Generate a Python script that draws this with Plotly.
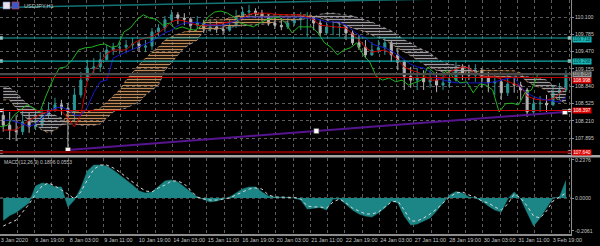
import numpy as np
import plotly.graph_objects as go

# ---------------- data ----------------
BARS_PER_CANDLE = 6          # each plotted candle aggregates 6 H1 bars
CHIKOU_SHIFT = 26            # bars
open_first = 108.31
close = [108.13,108.04,108.01,108.19,108.10,108.13,108.31,108.41,108.50,108.44,
         108.37,108.68,108.95,109.17,109.19,109.32,109.50,109.54,109.55,109.59,
         109.61,109.55,109.57,109.83,109.90,110.05,110.14,110.08,110.06,109.95,
         109.99,109.88,109.92,109.88,109.86,109.94,110.10,110.19,110.21,110.17,
         110.10,109.99,109.95,109.92,109.99,110.05,110.08,110.10,109.99,109.81,
         109.92,109.92,109.92,109.81,109.63,109.55,109.41,109.50,109.54,109.63,
         109.41,109.28,109.02,108.95,108.99,108.92,108.95,108.86,108.90,108.95,
         109.19,109.08,109.04,109.13,108.99,108.90,108.92,108.72,108.88,108.86,
         108.77,108.37,108.52,108.53,108.50,108.72,108.77,109.06]
high = [108.44,108.37,108.31,108.44,108.37,108.41,108.44,108.55,108.63,108.59,
        108.53,108.81,109.10,109.32,109.35,109.46,109.59,109.63,109.64,109.68,
        109.72,109.68,109.68,109.90,109.97,110.12,110.23,110.19,110.17,110.10,
        110.12,110.05,110.05,110.03,110.01,110.05,110.23,110.28,110.32,110.26,
        110.23,110.15,110.10,110.08,110.12,110.19,110.19,110.19,110.12,110.05,
        110.01,110.01,109.99,109.94,109.86,109.77,109.68,109.64,109.68,109.72,
        109.68,109.54,109.32,109.19,109.17,109.13,109.13,109.10,109.10,109.13,
        109.28,109.24,109.23,109.24,109.17,109.10,109.06,108.95,109.04,108.99,
        108.92,108.81,108.63,108.66,108.68,108.84,108.90,109.13]
low = [108.01,107.86,107.84,107.95,107.99,108.04,108.08,108.26,108.37,108.31,
       107.68,108.19,108.63,108.92,109.04,109.10,109.32,109.41,109.43,109.44,
       109.50,109.46,109.46,109.50,109.75,109.83,109.97,109.97,109.95,109.86,
       109.88,109.81,109.83,109.81,109.79,109.83,109.90,110.05,110.08,110.08,
       110.03,109.94,109.88,109.86,109.88,109.94,109.86,109.74,109.86,109.75,
       109.77,109.77,109.74,109.68,109.59,109.50,109.35,109.39,109.44,109.41,
       109.28,109.13,108.77,108.81,108.77,108.77,108.81,108.73,108.77,108.81,
       108.92,108.95,108.95,108.92,108.81,108.73,108.68,108.59,108.66,108.72,
       108.59,108.28,108.31,108.37,108.37,108.48,108.59,108.73]
tenkan = [108.04,108.04,108.04,108.13,108.22,108.28,108.35,108.37,108.41,108.39,
          108.26,108.10,108.31,108.95,109.13,109.26,109.43,109.50,109.50,109.50,
          109.61,109.68,109.72,109.74,109.81,109.90,110.01,110.05,110.03,109.99,
          109.95,109.94,109.95,109.97,109.99,110.01,110.03,110.08,110.15,110.17,
          110.17,110.17,110.15,110.14,110.14,110.14,110.14,110.10,110.05,109.95,
          109.94,109.92,109.92,109.90,109.79,109.68,109.55,109.46,109.48,109.50,
          109.43,109.32,109.19,109.13,109.10,109.04,108.95,108.95,108.99,109.10,
          109.15,109.19,109.17,109.08,109.01,109.01,109.01,108.97,108.92,108.88,
          108.84,108.66,108.61,108.59,108.59,108.61,108.70,108.81]
kijun = [108.22,108.22,108.19,108.15,108.11,108.15,108.26,108.37,108.44,108.46,
         108.41,108.31,108.31,108.46,108.72,108.92,108.95,109.35,109.41,109.46,
         109.50,109.55,109.61,109.66,109.74,109.81,109.86,109.94,109.99,109.99,
         110.01,109.97,109.95,109.95,109.95,109.99,110.03,110.08,110.10,110.10,
         110.10,110.10,110.10,110.10,110.10,110.10,110.10,110.08,110.08,110.05,
         110.01,110.01,110.01,109.95,109.86,109.77,109.72,109.61,109.57,109.54,
         109.48,109.41,109.32,109.24,109.19,109.17,109.10,108.99,108.95,108.92,
         108.90,108.90,108.90,108.90,108.90,108.90,108.92,108.95,108.99,109.01,
         108.82,108.72,108.65,108.61,108.59,108.57,108.55,108.64]
span_a = [108.59,108.59,108.44,108.31,108.22,108.13,108.04,107.99,108.04,108.13,
          108.37,108.37,108.37,108.37,108.41,108.44,108.55,108.66,108.77,108.95,
          109.10,109.23,109.35,109.46,109.55,109.68,109.74,109.79,109.83,109.85,
          109.86,110.01,110.05,110.05,110.05,110.08,110.12,110.14,110.15,110.15,
          110.14,110.14,110.15,110.15,110.15,110.15,110.15,110.14,110.12,110.08,
          110.05,110.01,109.97,109.94,109.90,109.86,109.83,109.77,109.72,109.68,
          109.61,109.54,109.46,109.39,109.32,109.24,109.19,109.13,109.10,109.08,
          109.08,109.10,109.10,109.10,109.13,109.13,109.13,109.13,109.13,109.12,
          109.08,108.92,108.86,108.81,108.77,108.64,108.59,108.53]
span_b = [108.83,108.81,108.73,108.59,108.50,108.41,108.35,108.35,108.31,108.26,
          108.15,108.15,108.13,108.13,108.13,108.15,108.26,108.37,108.41,108.44,
          108.50,108.55,108.68,108.77,108.86,109.13,109.28,109.41,109.54,109.61,
          109.68,109.86,109.86,109.88,109.90,109.90,109.94,109.94,109.95,109.97,
          109.97,109.97,110.01,110.01,110.01,110.05,110.05,110.08,110.10,110.15,
          110.17,110.17,110.15,110.14,110.12,110.08,110.05,110.01,109.95,109.90,
          109.85,109.77,109.68,109.63,109.55,109.50,109.44,109.35,109.28,109.24,
          109.23,109.21,109.17,109.13,109.02,109.01,109.01,109.01,109.02,109.02,
          109.02,109.01,108.99,108.99,108.95,108.86,108.83,108.81]
macd_main = [-0.14,-0.11,-0.09,-0.06,-0.03,0.075,0.094,0.088,0.069,0.069,
             -0.056,-0.013,0.063,0.169,0.206,0.206,0.2,0.175,0.144,0.113,
             0.081,0.044,0.031,0.038,0.075,0.106,0.113,0.1,0.069,0.038,
             0.006,-0.009,-0.025,-0.019,-0.006,0.006,0.031,0.056,0.069,0.069,
             0.038,0.013,0.006,0.006,0.003,0.0,-0.013,-0.069,-0.063,-0.059,
             -0.075,-0.006,-0.006,-0.038,-0.075,-0.1,-0.113,-0.119,-0.094,-0.063,
             -0.019,-0.031,-0.113,-0.169,-0.163,-0.144,-0.125,-0.081,-0.031,0.019,
             0.04,0.031,0.006,0.0,-0.019,-0.05,-0.075,-0.088,-0.006,0.038,
             -0.006,-0.094,-0.175,-0.125,-0.063,0.0,0.006,0.11]
macd_signal = [-0.175,-0.156,-0.138,-0.088,-0.038,0.025,0.075,0.094,0.075,0.05,
               0.025,-0.006,0.038,0.113,0.18,0.206,0.206,0.188,0.163,0.131,
               0.1,0.069,0.044,0.038,0.063,0.081,0.106,0.106,0.088,0.044,
               0.006,-0.006,-0.013,-0.013,-0.006,0.0,0.019,0.038,0.056,0.063,
               0.056,0.019,0.006,0.006,0.006,0.003,-0.006,-0.05,-0.056,-0.056,
               -0.063,-0.025,-0.006,-0.031,-0.063,-0.081,-0.1,-0.1,-0.088,-0.056,
               -0.025,-0.019,-0.075,-0.144,-0.144,-0.125,-0.1,-0.069,-0.031,0.006,
               0.031,0.038,0.019,0.006,-0.019,-0.031,-0.056,-0.075,-0.038,0.025,
               0.0,-0.05,-0.113,-0.125,-0.081,-0.019,0.006,0.031]

time_label_bars = [0, 32, 64, 96, 128, 160, 192, 224, 256, 288, 320, 352, 384, 416, 448, 480, 512]
time_labels = ["3 Jan 2020", "6 Jan 19:00", "8 Jan 03:00", "9 Jan 11:00", "10 Jan 19:00",
               "14 Jan 03:00", "15 Jan 11:00", "16 Jan 19:00", "20 Jan 03:00", "21 Jan 11:00",
               "22 Jan 19:00", "24 Jan 03:00", "27 Jan 11:00", "28 Jan 19:00", "30 Jan 03:00",
               "31 Jan 11:00", "3 Feb 19:00"]
grid_step_bars = 16
price_ticks = [110.100, 109.785, 109.470, 109.155, 108.840, 108.525, 108.210, 107.895]
macd_ticks = [0.2376, 0.0, -0.2061]
macd_tick_text = ["0.2376", "0.0000", "-0.2061"]

hline_prices = [109.718, 109.298, 109.059, 108.998, 108.397, 107.640]
hline_colors = ["#17A9A9", "#17A9A9", "#4A4A4A", "#C00000", "#D00000", "#7A0000"]
hline_widths = [1.2, 1.2, 2.2, 1.2, 1.2, 2.2]
hline_label_bg = ["#19B8B8", "#19B8B8", "#9A9A9A", "#E00000", "#E00000", "#E00000"]
hline_label_fg = ["#003838", "#003838", "#202020", "#FFFFFF", "#FFFFFF", "#FFFFFF"]
hline_label_shift = [-1.5, 0, 0, -3.4, 0, 0]
hline_handles = [True, True, False, False, True, True]

trend_purple_bars = [63, 524]
trend_purple_prices = [107.677, 108.369]
trend_teal_bars = [0, 540]
trend_teal_prices = [110.273, 110.48]

title_text = "USDJPY,H1"
macd_title = "MACD(12,26,9) 0.1896 0.0553"

# ---------------- layout geometry ----------------
W, H = 600, 246
ML, MR, MT, MB = 0, 29, 0, 12
PLOT_H = H - MT - MB
MAIN_BOTTOM_PX = 155
MACD_TOP_PX = 158
X_RANGE = [0, 529.7]
Y_RANGE = [107.586, 110.41]
Y2_RANGE = [-0.225, 0.25]
FONT = "Liberation Sans"
TXT = "#C4C4C4"
GRID = "#5C5C5C"


def py(px):
    return 1 - px / PLOT_H


def pxx(px):
    return px / (W - ML - MR)


n = len(close)
x = np.arange(n) * BARS_PER_CANDLE + BARS_PER_CANDLE / 2
opens = [open_first] + close[:-1]
a = np.array(span_a)
b = np.array(span_b)
lower = np.minimum(a, b)

fig = go.Figure()

# Ichimoku cloud (hatched)
fig.add_trace(go.Scatter(x=x, y=lower, mode="lines", line=dict(width=0), hoverinfo="skip", showlegend=False))
fig.add_trace(go.Scatter(x=x, y=a, mode="lines", line=dict(width=0.8, color="#C8955F", dash="dot"),
                         fill="tonexty", fillcolor="rgba(0,0,0,0)",
                         fillpattern=dict(shape="-", fgcolor="#C08A58", bgcolor="rgba(0,0,0,0)", size=3, solidity=0.45),
                         hoverinfo="skip", showlegend=False))
fig.add_trace(go.Scatter(x=x, y=lower, mode="lines", line=dict(width=0), hoverinfo="skip", showlegend=False))
fig.add_trace(go.Scatter(x=x, y=b, mode="lines", line=dict(width=0.8, color="#A8A0A8", dash="dot"),
                         fill="tonexty", fillcolor="rgba(0,0,0,0)",
                         fillpattern=dict(shape="-", fgcolor="#A09AA2", bgcolor="rgba(0,0,0,0)", size=3, solidity=0.45),
                         hoverinfo="skip", showlegend=False))

# candles
fig.add_trace(go.Candlestick(x=x, open=opens, high=high, low=low, close=close,
                             increasing=dict(line=dict(color="#2A9696", width=1), fillcolor="#2A9696"),
                             decreasing=dict(line=dict(color="#B4B4B4", width=1), fillcolor="#B4B4B4"),
                             whiskerwidth=0, hoverinfo="skip", showlegend=False))

# Ichimoku lines
fig.add_trace(go.Scatter(x=x, y=tenkan, mode="lines", line=dict(color="#D00000", width=1), showlegend=False, hoverinfo="skip"))
fig.add_trace(go.Scatter(x=x, y=kijun, mode="lines", line=dict(color="#1818C8", width=1), showlegend=False, hoverinfo="skip"))
fig.add_trace(go.Scatter(x=x - CHIKOU_SHIFT, y=close, mode="lines", line=dict(color="#1FB51F", width=1), showlegend=False, hoverinfo="skip"))

# trend lines
fig.add_trace(go.Scatter(x=trend_teal_bars, y=trend_teal_prices, mode="lines", line=dict(color="#137272", width=1.6),
                         showlegend=False, hoverinfo="skip"))
fig.add_trace(go.Scatter(x=trend_purple_bars, y=trend_purple_prices, mode="lines", line=dict(color="#56158F", width=2),
                         showlegend=False, hoverinfo="skip"))
pmx = [trend_purple_bars[0], np.mean(trend_purple_bars), trend_purple_bars[1]]
pmy = [trend_purple_prices[0], np.mean(trend_purple_prices), trend_purple_prices[1]]
fig.add_trace(go.Scatter(x=pmx, y=pmy, mode="markers",
                         marker=dict(symbol="square", size=5, color="#FFFFFF", line=dict(color="#505050", width=0.6)),
                         showlegend=False, hoverinfo="skip"))

# MACD
fig.add_trace(go.Scatter(x=x, y=macd_main, mode="lines", line=dict(color="#1C8585", width=0.5),
                         fill="tozeroy", fillcolor="#1C8585", xaxis="x2", yaxis="y2",
                         showlegend=False, hoverinfo="skip"))
fig.add_trace(go.Scatter(x=x, y=macd_signal, mode="lines", line=dict(color="#D8D8D8", width=1, dash="dot"),
                         xaxis="x2", yaxis="y2", showlegend=False, hoverinfo="skip"))

shapes = []
annotations = []
# horizontal price lines + handles + right labels
hx, hy = [], []
for p, c, w, bg, fg, sh, hnd in zip(hline_prices, hline_colors, hline_widths, hline_label_bg, hline_label_fg,
                                    hline_label_shift, hline_handles):
    shapes.append(dict(type="line", xref="paper", yref="y", x0=0, x1=1, y0=p, y1=p, line=dict(color=c, width=w)))
    annotations.append(dict(xref="paper", yref="y", x=1, y=p, xanchor="left", yanchor="middle", xshift=1, yshift=sh,
                            text=f"{p:.3f}", showarrow=False, bgcolor=bg, borderpad=0.2,
                            font=dict(family=FONT, size=4.8, color=fg)))
    if hnd:
        hx += [X_RANGE[0] + 1.2, X_RANGE[1] - 1.5]
        hy += [p, p]
fig.add_trace(go.Scatter(x=hx, y=hy, mode="markers",
                         marker=dict(symbol="square", size=3, color="#FFFFFF", line=dict(color="#888", width=0.5)),
                         showlegend=False, hoverinfo="skip", cliponaxis=False))

# MACD zero dotted line
shapes.append(dict(type="line", xref="paper", yref="y2", x0=0, x1=1, y0=0, y1=0, layer="below",
                   line=dict(color="#8A8A8A", width=1, dash="dot")))
# panel separator
shapes.append(dict(type="rect", xref="paper", yref="paper", x0=0, x1=W / (W - MR),
                   y0=py(MAIN_BOTTOM_PX + 2.6), y1=py(MAIN_BOTTOM_PX), fillcolor="#A6A6A6", line=dict(width=0)))
# title icon
shapes.append(dict(type="rect", xref="paper", yref="paper", x0=pxx(3), x1=pxx(10), y0=py(9), y1=py(2),
                   fillcolor="#E8E0EC", line=dict(color="#7080C0", width=0.6)))
shapes.append(dict(type="rect", xref="paper", yref="paper", x0=pxx(12), x1=pxx(19), y0=py(9), y1=py(2),
                   fillcolor="#3C58C8", line=dict(color="#D04040", width=0.6)))

annotations.append(dict(xref="paper", yref="paper", x=pxx(22), y=py(5.5), xanchor="left", yanchor="middle",
                        text=title_text, showarrow=False, font=dict(family=FONT, size=5.5, color=TXT)))
annotations.append(dict(xref="paper", yref="paper", x=pxx(2), y=py(162), xanchor="left", yanchor="middle",
                        text=macd_title, showarrow=False, font=dict(family=FONT, size=5, color=TXT)))

grid_bars = list(range(0, int(X_RANGE[1]) + 1, grid_step_bars))
label_map = dict(zip(time_label_bars, time_labels))
grid_text = [label_map.get(g, "") for g in grid_bars]

axis_common = dict(range=X_RANGE, showgrid=True, gridcolor=GRID, griddash="dot", gridwidth=1,
                   zeroline=False, tickvals=grid_bars, automargin=False, fixedrange=True)

fig.update_layout(
    width=W, height=H, margin=dict(l=ML, r=MR, t=MT, b=MB),
    paper_bgcolor="#000000", plot_bgcolor="#000000", template="none",
    showlegend=False, shapes=shapes, annotations=annotations, boxgap=0.55,
    xaxis=dict(**axis_common, anchor="y", showticklabels=False, ticks="", showline=False,
               rangeslider=dict(visible=False)),
    xaxis2=dict(**axis_common, anchor="y2", matches="x", ticktext=grid_text, ticks="", tickangle=0,
                ticklabelposition="outside right", showline=True, linecolor="#8C8C8C", linewidth=1.5,
                tickfont=dict(family=FONT, size=5.5, color=TXT)),
    yaxis=dict(domain=[py(MAIN_BOTTOM_PX), 1], range=Y_RANGE, side="right", tickvals=price_ticks,
               ticktext=[f"{v:.3f}" for v in price_ticks], showgrid=True, gridcolor=GRID, griddash="dot",
               zeroline=False, showline=True, linecolor="#8C8C8C", linewidth=1, ticks="outside", ticklen=2,
               tickcolor="#8C8C8C", tickfont=dict(family=FONT, size=5.2, color=TXT), automargin=False,
               fixedrange=True),
    yaxis2=dict(domain=[0, py(MACD_TOP_PX)], range=Y2_RANGE, side="right", tickvals=macd_ticks,
                ticktext=macd_tick_text, showgrid=False, zeroline=False, showline=True, linecolor="#8C8C8C",
                linewidth=1, ticks="outside", ticklen=2, tickcolor="#8C8C8C",
                tickfont=dict(family=FONT, size=5.2, color=TXT), automargin=False, fixedrange=True),
)

fig.write_html("out.html", config=dict(displayModeBar=False))
